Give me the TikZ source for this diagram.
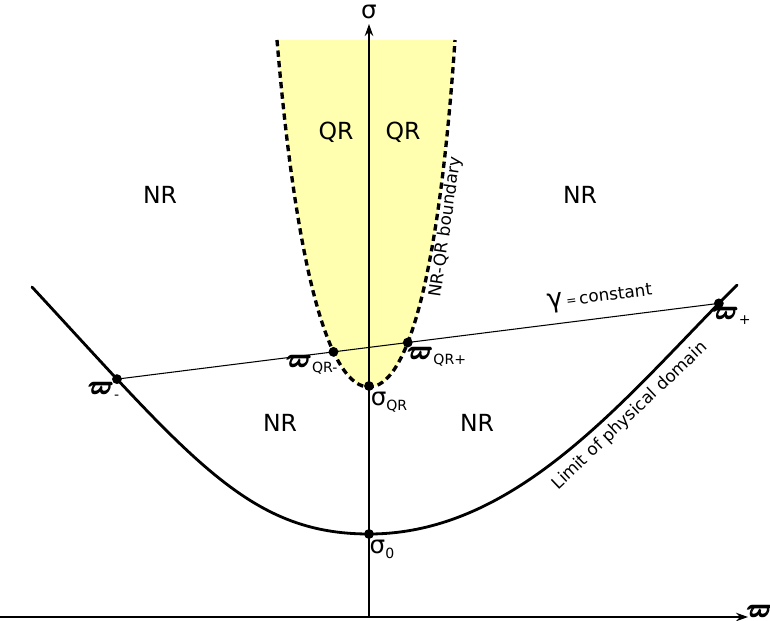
\documentclass[tikz,border=0pt]{standalone}
\usepackage{amsmath}
\usepackage{bm}
\usepackage[no-math]{fontspec}
\setmainfont{DejaVu Sans}
\usetikzlibrary{arrows.meta, intersections}

\definecolor{qrfill}{RGB}{255,255,175}
\newcommand{\wvar}{{\fontsize{14.5}{15}\selectfont\pmb{$\bm{\varpi}$}}}
\newcommand{\lowsub}[1]{\raisebox{-0.5ex}{\fontsize{8}{9}\selectfont #1}}

\begin{document}
\begin{tikzpicture}[x=0.02cm, y=-0.02cm,
  axisline/.style={line width=0.8pt, -{Stealth[length=2.4mm, width=1.7mm]}},
  region/.style={font=\fontsize{13.4}{16}\selectfont},
  tag/.style={font=\fontsize{9.6}{11}\selectfont, inner sep=1pt},
  dot/.style={circle, fill, inner sep=0pt, minimum size=5.6pt},
  bound/.style={line width=1.9pt, dash pattern=on 3.6pt off 2.4pt},
  limitline/.style={line width=1.6pt, line cap=round},
  gline/.style={line width=0.6pt}]
\useasboundingbox (0,0) rectangle (770,621);

\coordinate (O) at (369,617);
\coordinate (Xend) at (748,617);
\coordinate (Yend) at (369,24);

% limit of the physical domain (points only, drawn later)
\path (32,287) .. controls (192,460) and (249,534) .. (369,534) coordinate[pos=0.2] (wm)
  .. controls (519,534) and (627,395) .. (737,285) coordinate[pos=0.945] (wp);

% quasi-resonant zone
\fill[qrfill] (277,40) .. controls (298,290) and (333,387) .. (369,387)
  .. controls (405,387) and (438,290) .. (455,40) -- cycle;

\draw[axisline] (0,617) -- (Xend);
\draw[axisline] (O) -- (Yend);

\draw[gline, name path=gamma] (wm) -- (wp);
\draw[bound, name path=border] (277,40) .. controls (298,290) and (333,387) .. (369,387)
  .. controls (405,387) and (438,290) .. (455,40);
\path[name intersections={of=gamma and border, by={qrm,qrp}, sort by=gamma}];

\draw[limitline] (32,287) .. controls (192,460) and (249,534) .. (369,534)
  .. controls (519,534) and (627,395) .. (737,285);

\node[dot] (dwm) at (wm) {};
\node[dot] (dwp) at (wp) {};
\node[dot] (dqrm) at (qrm) {};
\node[dot] (dqrp) at (qrp) {};
\node[dot] (dsqr) at (369,386) {};
\node[dot] (ds0) at (369,534) {};

\node[inner sep=0pt] (xlab) at (760,611) {\wvar};
\node[inner sep=0pt, font=\fontsize{14}{15}\selectfont] (ylab) at (369,12) {σ};

\node[inner sep=0pt] (lwm) at (104,391) {\wvar\lowsub{-}};
\node[inner sep=0pt] (lwp) at (732,316) {\wvar\lowsub{+}};
\node[inner sep=0pt] (lqrm) at (312,365) {\wvar\lowsub{QR-}};
\node[inner sep=0pt] (lqrp) at (437,357) {\wvar\lowsub{QR+}};
\node[inner sep=0pt] (lsqr) at (389,402) {{\fontsize{14}{15}\selectfont σ}\lowsub{QR}};
\node[inner sep=0pt] (ls0) at (382,549) {{\fontsize{14}{15}\selectfont σ}\lowsub{0}};

\node[region] (nr1) at (160,195) {NR};
\node[region] (nr2) at (580,195) {NR};
\node[region] (nr3) at (280,423) {NR};
\node[region] (nr4) at (477,423) {NR};
\node[region] (qr1) at (336,132) {QR};
\node[region] (qr2) at (403,132) {QR};

\node[tag, rotate=82] (blab) at (446,227) {NR-QR boundary};
\node[tag, rotate=7.2] (glab) at (600,297)
  {{\fontsize{15}{16}\selectfont γ}\,{\fontsize{7}{8}\selectfont =}\,constant};
\node[tag, rotate=43.5] (llab) at (630,416) {Limit of physical domain};
\end{tikzpicture}
\end{document}
